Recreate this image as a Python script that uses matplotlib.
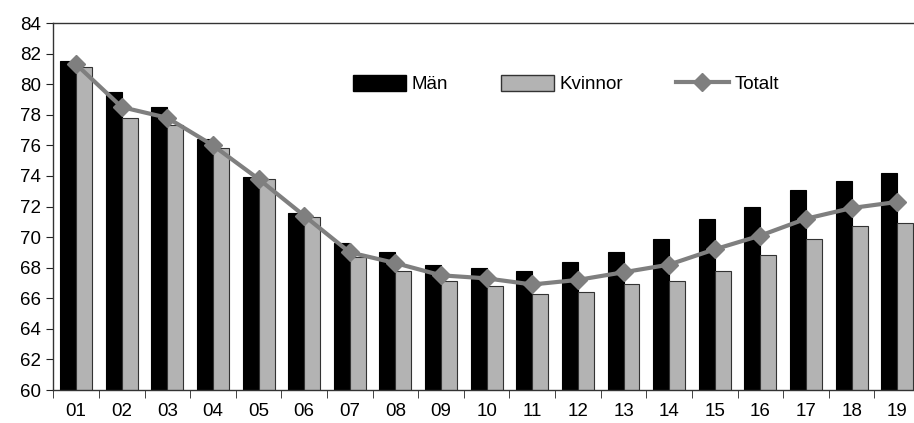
import numpy as np
import matplotlib.pyplot as plt
from matplotlib.patches import Patch
from matplotlib.lines import Line2D

plt.rcParams['font.family'] = ['Liberation Sans', 'DejaVu Sans']
plt.rcParams['font.size'] = 13.5

labels = ["01", "02", "03", "04", "05", "06", "07", "08", "09", "10",
          "11", "12", "13", "14", "15", "16", "17", "18", "19"]
man = [81.5, 79.5, 78.5, 76.4, 73.9, 71.6, 69.6, 69.0, 68.2, 68.0,
       67.8, 68.4, 69.0, 69.9, 71.2, 72.0, 73.1, 73.7, 74.2]
kvinnor = [81.1, 77.8, 77.3, 75.8, 73.8, 71.3, 68.7, 67.8, 67.1, 66.8,
           66.3, 66.4, 66.9, 67.1, 67.8, 68.8, 69.9, 70.7, 70.9]
totalt = [81.3, 78.5, 77.8, 76.0, 73.8, 71.4, 69.0, 68.3, 67.5, 67.3,
          66.9, 67.2, 67.7, 68.2, 69.2, 70.1, 71.2, 71.9, 72.3]

GRAY_BAR = "#b3b3b3"
GRAY_LINE = "#7f7f7f"

fig = plt.figure(figsize=(9.14, 4.23), dpi=100)
ax = fig.add_axes([0.0583, 0.078, 0.9483, 0.8676])

x = np.arange(len(labels))
w = 0.35
ax.bar(x - w / 2, man, w, color="black", edgecolor="black", linewidth=0.8, zorder=2)
ax.bar(x + w / 2, kvinnor, w, color=GRAY_BAR, edgecolor="#333333", linewidth=0.8, zorder=2)
ax.plot(x, totalt, color=GRAY_LINE, lw=3, marker="D", markersize=9, zorder=3)

ax.set_ylim(60, 84)
ax.set_yticks(range(60, 85, 2))
ax.set_xlim(-0.5, len(labels) - 0.5)
ax.set_xticks(x)
ax.set_xticklabels(labels)
ax.set_xticks(np.arange(-0.5, len(labels), 1), minor=True)
ax.tick_params(axis="x", which="major", length=0, pad=9)
ax.tick_params(axis="x", which="minor", length=6, direction="out", color="#222222")
ax.tick_params(axis="y", length=5, direction="out", color="#222222", pad=4)

for s in ["left", "bottom", "top"]:
    ax.spines[s].set_color("#333333")
    ax.spines[s].set_linewidth(1)
ax.spines["right"].set_visible(False)

handles = [
    Patch(facecolor="black", edgecolor="black"),
    Patch(facecolor=GRAY_BAR, edgecolor="#333333"),
    Line2D([0], [0], color=GRAY_LINE, lw=3, marker="D", markersize=9),
]
fig.legend(handles, ["Män", "Kvinnor", "Totalt"], loc="center",
           bbox_to_anchor=(0.619, 0.801), ncol=3, frameon=False,
           handlelength=2.85, handleheight=0.9, handletextpad=0.27,
           columnspacing=2.82, fontsize=13.5)

fig.savefig("out.png", dpi=100)
